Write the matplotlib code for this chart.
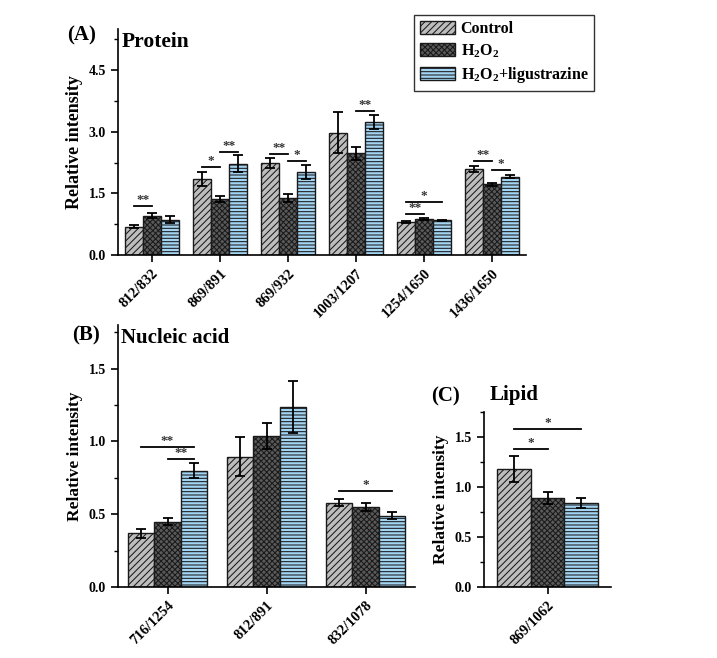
import matplotlib
matplotlib.use("Agg")
import matplotlib.pyplot as plt
import numpy as np
from matplotlib.patches import Patch
from matplotlib.ticker import MultipleLocator

plt.rcParams['font.family'] = ['Liberation Serif', 'DejaVu Serif']
plt.rcParams['font.weight'] = 'bold'
plt.rcParams['mathtext.fontset'] = 'custom'
plt.rcParams['mathtext.rm'] = 'Liberation Serif:bold'
plt.rcParams['mathtext.bf'] = 'Liberation Serif:bold'
plt.rcParams['mathtext.it'] = 'Liberation Serif:bold'
plt.rcParams['hatch.linewidth'] = 0.75

series_names = ['Control', 'H$_2$O$_2$', 'H$_2$O$_2$+ligustrazine']
colors = ['#bdbdbd', '#5a5a5a', '#a3d5f3']
hatches = ['/////', 'xxxxxx', '-----']

# Panel A: Protein
catsA = ['812/832', '869/891', '869/932', '1003/1207', '1254/1650', '1436/1650']
ctrlA = [0.69, 1.85, 2.24, 2.98, 0.81, 2.09]
ctrlA_err = [0.04, 0.18, 0.13, 0.49, 0.02, 0.08]
h2o2A = [0.96, 1.36, 1.39, 2.48, 0.87, 1.72]
h2o2A_err = [0.07, 0.08, 0.10, 0.16, 0.02, 0.04]
ligA = [0.86, 2.22, 2.02, 3.24, 0.84, 1.91]
ligA_err = [0.08, 0.21, 0.18, 0.17, 0.02, 0.04]
# significance: (group, bar_i, bar_j, y, label)
sigA = [(0, 0, 1, 1.20, '**'), (1, 0, 1, 2.15, '*'), (1, 1, 2, 2.51, '**'),
        (2, 0, 1, 2.46, '**'), (2, 1, 2, 2.29, '*'), (3, 1, 2, 3.50, '**'),
        (4, 0, 1, 1.00, '**'), (4, 0, 2, 1.30, '*'), (5, 0, 1, 2.29, '**'),
        (5, 1, 2, 2.07, '*')]

# Panel B: Nucleic acid
catsB = ['716/1254', '812/891', '832/1078']
ctrlB = [0.37, 0.895, 0.58]
ctrlB_err = [0.03, 0.135, 0.025]
h2o2B = [0.45, 1.035, 0.55]
h2o2B_err = [0.025, 0.09, 0.03]
ligB = [0.80, 1.235, 0.49]
ligB_err = [0.05, 0.18, 0.025]
sigB = [(0, 0, 2, 0.96, '**'), (0, 1, 2, 0.88, '**'), (2, 0, 2, 0.66, '*')]

# Panel C: Lipid
catsC = ['869/1062']
ctrlC = [1.18]
ctrlC_err = [0.13]
h2o2C = [0.89]
h2o2C_err = [0.06]
ligC = [0.84]
ligC_err = [0.05]
sigC = [(0, 0, 1, 1.38, '*'), (0, 0, 2, 1.58, '*')]

W = 0.267

fig = plt.figure(figsize=(7.17, 6.58), dpi=100)


def panel(rect, cats, vals, errs, sigs, ylim, major, ylabel_size):
    ax = fig.add_axes(rect)
    x = np.arange(len(cats))
    for k in range(3):
        ax.bar(x + (k - 1) * W, vals[k], W, color=colors[k], edgecolor='#1a1a1a',
               hatch=hatches[k], linewidth=1.0, zorder=2)
        ax.errorbar(x + (k - 1) * W, vals[k], yerr=errs[k], fmt='none',
                    ecolor='black', elinewidth=1.3, capsize=3.5, capthick=1.3, zorder=3)
    for g, i, j, y, lab in sigs:
        x0 = g + (i - 1) * W
        x1 = g + (j - 1) * W
        ax.plot([x0, x1], [y, y], color='black', lw=1.3, zorder=3)
        ax.text((x0 + x1) / 2, y, lab, ha='center', va='bottom', fontsize=9.5,
                color='#333333')
    ax.set_xlim(-0.5, len(cats) - 0.5)
    ax.set_ylim(*ylim)
    ax.yaxis.set_major_locator(MultipleLocator(major))
    ax.yaxis.set_minor_locator(MultipleLocator(major / 2))
    ax.set_xticks(x)
    ax.set_xticklabels(cats, rotation=45, ha='right', rotation_mode='anchor',
                       fontsize=10.5, fontweight='bold')
    for lab in ax.get_yticklabels():
        lab.set_fontweight('bold')
    ax.tick_params(axis='y', which='major', length=5, width=1.2, labelsize=10)
    ax.tick_params(axis='y', which='minor', length=3, width=1.0)
    ax.tick_params(axis='x', which='major', length=5, width=1.2)
    ax.spines['top'].set_visible(False)
    ax.spines['right'].set_visible(False)
    ax.spines['left'].set_linewidth(1.2)
    ax.spines['bottom'].set_linewidth(1.2)
    ax.set_ylabel('Relative intensity', fontsize=ylabel_size, fontweight='bold')
    ax.yaxis.set_major_formatter(matplotlib.ticker.FormatStrFormatter('%.1f'))
    return ax


axA = panel([118 / 717, 1 - 255 / 658, 408 / 717, 226 / 658], catsA,
            [ctrlA, h2o2A, ligA], [ctrlA_err, h2o2A_err, ligA_err], sigA,
            (0, 5.5), 1.5, 13)
axB = panel([118 / 717, 1 - 587 / 658, 297 / 717, 262 / 658], catsB,
            [ctrlB, h2o2B, ligB], [ctrlB_err, h2o2B_err, ligB_err], sigB,
            (0, 1.8), 0.5, 12.5)
axC = panel([484 / 717, 1 - 587 / 658, 127 / 717, 175 / 658], catsC,
            [ctrlC, h2o2C, ligC], [ctrlC_err, h2o2C_err, ligC_err], sigC,
            (0, 1.75), 0.5, 12.5)

fig.text(67 / 717, 1 - 35 / 658, '(A)', fontsize=15, fontweight='bold', va='center', ha='left')
fig.text(122 / 717, 1 - 42 / 658, 'Protein', fontsize=15.5, fontweight='bold', va='center', ha='left')
fig.text(72 / 717, 1 - 335 / 658, '(B)', fontsize=15, fontweight='bold', va='center', ha='left')
fig.text(121 / 717, 1 - 338 / 658, 'Nucleic acid', fontsize=15, fontweight='bold', va='center', ha='left')
fig.text(431 / 717, 1 - 396 / 658, '(C)', fontsize=15, fontweight='bold', va='center', ha='left')
fig.text(490 / 717, 1 - 395 / 658, 'Lipid', fontsize=15, fontweight='bold', va='center', ha='left')

handles = [Patch(facecolor=colors[k], edgecolor='#1a1a1a', hatch=hatches[k], label=series_names[k])
           for k in range(3)]
leg = fig.legend(handles=handles, loc='upper right', bbox_to_anchor=(594 / 717, 1 - 15 / 658),
                 prop={'family': 'Liberation Serif', 'weight': 'bold', 'size': 11.5},
                 frameon=True, fancybox=False, edgecolor='black', handlelength=2.2,
                 handleheight=0.9, borderpad=0.35, labelspacing=0.35, handletextpad=0.35,
                 borderaxespad=0)
leg.get_frame().set_linewidth(1.0)

fig.savefig('out.png', dpi=100)
